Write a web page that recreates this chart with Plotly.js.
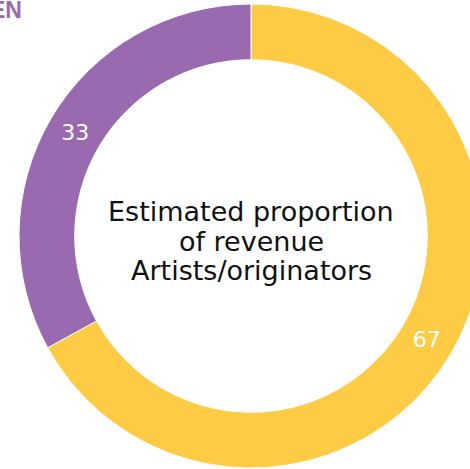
<!DOCTYPE html>
<html>
<head>
<meta charset="utf-8">
<script src="https://cdn.plot.ly/plotly-3.0.1.min.js"></script>
<style>
html,body{margin:0;padding:0;overflow:hidden;background:#fff;width:470px;height:469px;}
#chart{width:500px;height:500px;}
</style>
</head>
<body>
<div id="chart"></div>
<script>
const categories = ["Artists/originators", "Others"];
const values = [67, 33];
const colors = ["#FECB45", "#9A6AB0"];
const centerTitleLines = ["Estimated proportion", "of revenue", "Artists/originators"];
const cornerLabel = "EN";

const W = 500, H = 500;
const data = [{
  type: "pie",
  labels: categories,
  values: values,
  sort: false,
  direction: "clockwise",
  rotation: 0,
  hole: 0.76,
  marker: {colors: colors, line: {color: "#ffffff", width: 1}},
  textinfo: "value",
  textposition: "inside",
  insidetextorientation: "horizontal",
  textfont: {family: "'DejaVu Sans', sans-serif", size: 22, color: "#ffffff"},
  domain: {x: [19 / W, 483 / W], y: [1 - 468 / H, 1 - 4 / H]},
  showlegend: false,
  hoverinfo: "none"
}];

const lineY = [212, 241, 270];
const annotations = centerTitleLines.map((t, i) => ({
  text: t,
  xref: "paper", yref: "paper",
  x: 251 / W, y: 1 - lineY[i] / H,
  xanchor: "center", yanchor: "middle",
  showarrow: false,
  align: "center",
  font: {family: "'DejaVu Sans', sans-serif", size: 27, color: "#111111"}
}));
annotations.push({
  text: "<b>" + cornerLabel + "</b>",
  xref: "paper", yref: "paper",
  x: 24 / W, y: 1 - 25 / H,
  xanchor: "right", yanchor: "bottom",
  showarrow: false,
  font: {family: "'Liberation Sans Narrow', 'Liberation Sans', sans-serif", size: 23, color: "#9A6AB0"}
});

const layout = {
  width: W,
  height: H,
  margin: {l: 0, r: 0, t: 0, b: 0, pad: 0},
  paper_bgcolor: "#ffffff",
  plot_bgcolor: "#ffffff",
  showlegend: false,
  annotations: annotations
};

Plotly.newPlot("chart", data, layout, {staticPlot: true, displayModeBar: false});
</script>
</body>
</html>
